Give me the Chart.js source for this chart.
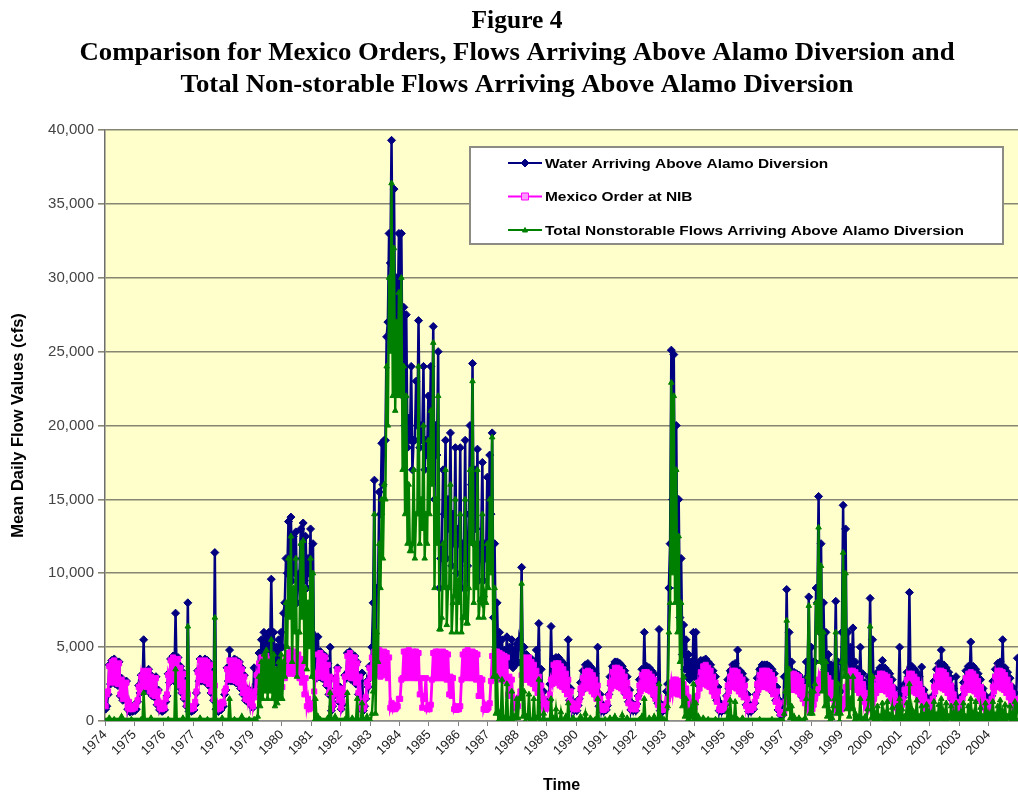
<!DOCTYPE html>
<html>
<head>
<meta charset="utf-8">
<script src="https://cdn.jsdelivr.net/npm/chart.js@4.4.1/dist/chart.umd.min.js"></script>
<style>
  html, body { margin: 0; padding: 0; background: #ffffff; overflow: hidden; }
  #wrap { position: relative; width: 1018px; height: 796px; }
</style>
</head>
<body>
<div id="wrap"><canvas id="flowChart" width="1018" height="796"></canvas></div>
<script>
// Calendar years on the time axis; every series keeps 12 monthly readings per year,
// one array for the month's upper reading and one for its lower reading.
const years = [1974, 1975, 1976, 1977, 1978, 1979, 1980, 1981, 1982, 1983, 1984, 1985, 1986, 1987, 1988, 1989,
               1990, 1991, 1992, 1993, 1994, 1995, 1996, 1997, 1998, 1999, 2000, 2001, 2002, 2003, 2004];

const yTicks = [0, 5000, 10000, 15000, 20000, 25000, 30000, 35000, 40000];

const seriesNames = [
  'Water Arriving Above Alamo Diversion',
  'Mexico Order at NIB',
  'Total Nonstorable Flows Arriving Above Alamo Diversion'
];

// Water arriving above Alamo Diversion (cfs) - monthly upper readings
const waterArriving = [
  1000, 3800, 4100, 4200, 3800, 4000, 2900, 2400, 2700, 1200, 700, 800,          // 1974
  800, 2400, 3100, 5500, 3300, 3500, 3100, 2800, 3000, 2100, 1000, 700,          // 1975
  1300, 3200, 4200, 4400, 7300, 4300, 3700, 3300, 2700, 8000, 800, 700,          // 1976
  1100, 3400, 4200, 4000, 4200, 4100, 3900, 3300, 11400, 1100, 900, 1200,        // 1977
  1800, 3600, 4800, 4000, 4200, 4100, 4000, 3600, 3100, 2200, 2100, 1700,        // 1978
  3600, 2500, 4600, 5500, 6000, 5800, 6000, 9600, 6000, 5000, 5500, 6000,        // 1979
  7300, 11000, 13500, 13800, 12500, 12800, 9500, 13000, 13400, 12500, 11000, 13000, // 1980
  12000, 5700, 5700, 4700, 4500, 4400, 3900, 5000, 1000, 2900, 3600, 2300,       // 1981
  1100, 3100, 4600, 4700, 4400, 4400, 4000, 3100, 3250, 1000, 2700, 3700,        // 1982
  5000, 16300, 9000, 15500, 18800, 19000, 26000, 33000, 39300, 36000, 30000, 33000, // 1983
  33000, 28000, 27500, 20500, 24000, 19000, 23000, 27100, 20000, 24000, 19000, 22000, // 1984
  24000, 26700, 20000, 25000, 11000, 17000, 19000, 15000, 19500, 14000, 18500, 13000, // 1985
  18500, 12000, 19000, 10500, 20000, 24200, 17000, 18400, 11000, 17500, 12000, 16500, // 1986
  18000, 19500, 12000, 8000, 6000, 5500, 4800, 5700, 5000, 5500, 4800, 5200,     // 1987
  5500, 10400, 5000, 4500, 4300, 4200, 4000, 4800, 6600, 3500, 2000, 1300,       // 1988
  1300, 6400, 4200, 4300, 4300, 4100, 3900, 3600, 5500, 2200, 1300, 1050,        // 1989
  1050, 2600, 3400, 3800, 3900, 3700, 3500, 3200, 5000, 1800, 1100, 1000,        // 1990
  1050, 3000, 3700, 4000, 4000, 3900, 3700, 3400, 3000, 2100, 1200, 1050,        // 1991
  1150, 2800, 3500, 6000, 3700, 3600, 3400, 3200, 2700, 6200, 1100, 1050,        // 1992
  2000, 9000, 25100, 24800, 20000, 15000, 11000, 6500, 5500, 4500, 4000, 6000,   // 1993
  6000, 3900, 4100, 4100, 4200, 4000, 3800, 3400, 3000, 2300, 1200, 1050,        // 1994
  1100, 2800, 3400, 3800, 3900, 4800, 3400, 3200, 2800, 1800, 1100, 1050,        // 1995
  1200, 2900, 3500, 3800, 3800, 3800, 3700, 3500, 3200, 2300, 1400, 700,         // 1996
  3000, 8900, 6000, 4000, 3300, 3200, 3100, 2800, 2400, 4000, 8400, 5000,        // 1997
  4000, 9000, 15200, 12000, 8000, 6000, 4500, 3800, 3500, 8100, 4000, 2000,      // 1998
  14600, 13000, 6000, 5000, 6300, 4000, 3500, 5000, 3200, 2600, 2000, 8300,      // 1999
  5500, 2700, 3300, 3600, 4100, 3600, 3400, 3200, 2800, 2200, 1700, 5000,        // 2000
  2000, 2500, 3300, 8700, 3700, 3500, 3300, 3000, 3650, 2100, 1600, 1400,        // 2001
  1400, 2700, 3500, 3900, 4800, 3800, 3600, 3300, 2900, 2200, 3000, 1400,        // 2002
  1400, 2600, 3400, 3700, 5350, 3700, 3500, 3200, 2800, 2200, 1700, 1400,        // 2003
  1400, 2700, 3500, 3900, 4000, 5500, 3600, 3300, 2900, 2300, 1900, 4250         // 2004
];

// Water arriving above Alamo Diversion (cfs) - monthly lower readings
const waterArrivingLow = [
  800, 1800, 2500, 2700, 2500, 2400, 1700, 1400, 1500, 800, 600, 650,            // 1974
  700, 1300, 1900, 2300, 2200, 2200, 1900, 1700, 1600, 1100, 750, 650,           // 1975
  750, 1700, 2600, 2900, 2700, 2700, 2300, 1900, 1500, 1000, 650, 650,           // 1976
  750, 1900, 2700, 2700, 2700, 2600, 2400, 1900, 1400, 800, 650, 750,            // 1977
  1000, 2100, 2700, 2700, 2700, 2600, 2500, 2200, 1800, 1400, 1300, 1100,        // 1978
  900, 1900, 2900, 3500, 4000, 4200, 4000, 4500, 4200, 3800, 3600, 4000,         // 1979
  5000, 8000, 10000, 11000, 9500, 10000, 8000, 10000, 11000, 9500, 9000, 10000,  // 1980
  6000, 3000, 2900, 3000, 2900, 2800, 2400, 1800, 700, 1700, 2200, 1300,         // 1981
  800, 1800, 2900, 3000, 2800, 2800, 2500, 1800, 800, 700, 1500, 2300,           // 1982
  3000, 8000, 5000, 9000, 14000, 16000, 19000, 27000, 31000, 28000, 26000, 27000, // 1983
  26000, 22000, 20000, 18500, 19000, 17000, 19000, 20000, 18500, 19000, 17000, 18000, // 1984
  19000, 20000, 15000, 18000, 9000, 12000, 14000, 11000, 13000, 10500, 12000, 10000, // 1985
  12000, 9000, 11000, 9000, 14000, 16000, 12000, 13000, 9500, 12000, 9500, 11000, // 1986
  12000, 14000, 7000, 5000, 4200, 4000, 3800, 4000, 3800, 3900, 3600, 3800,      // 1987
  4000, 5000, 3800, 3500, 3400, 3200, 3000, 3100, 3000, 2200, 1200, 900,         // 1988
  900, 2500, 2800, 2900, 2900, 2700, 2600, 2300, 2000, 1400, 800, 700,           // 1989
  700, 1500, 2000, 2400, 2500, 2400, 2200, 2000, 1700, 1000, 700, 650,           // 1990
  750, 1800, 2400, 2600, 2600, 2500, 2400, 2200, 1800, 1300, 750, 700,           // 1991
  700, 1700, 2100, 2400, 2400, 2300, 2200, 2000, 1600, 1200, 700, 650,           // 1992
  800, 2500, 12000, 15000, 12000, 9000, 7000, 4500, 3500, 3000, 2800, 3000,      // 1993
  3000, 2500, 2900, 2900, 2800, 2700, 2500, 2200, 1900, 1400, 700, 650,          // 1994
  750, 1700, 2200, 2500, 2500, 2400, 2200, 2000, 1700, 1100, 650, 650,           // 1995
  800, 1800, 2300, 2500, 2500, 2500, 2400, 2200, 1900, 1400, 750, 400,           // 1996
  400, 3000, 2500, 2500, 2300, 2200, 2100, 1900, 1600, 1500, 3000, 2500,         // 1997
  2000, 4000, 8000, 6000, 4000, 3500, 2800, 2300, 2000, 3000, 2000, 1000,        // 1998
  6000, 5000, 3500, 3000, 3500, 2800, 2500, 2600, 2200, 1600, 1200, 3000,        // 1999
  2500, 1800, 2200, 2400, 2500, 2400, 2300, 2100, 1800, 1400, 1100, 1500,        // 2000
  1200, 1600, 2200, 3000, 2500, 2300, 2200, 2000, 1800, 1300, 1100, 900,         // 2001
  900, 1700, 2300, 2600, 2800, 2600, 2400, 2200, 1900, 1400, 1200, 900,          // 2002
  900, 1700, 2200, 2500, 2800, 2500, 2300, 2100, 1800, 1400, 1100, 900,          // 2003
  900, 1700, 2300, 2600, 2700, 2800, 2400, 2200, 1900, 1500, 1200, 1500          // 2004
];

// Mexico order at NIB (cfs) - monthly upper readings
const mexicoOrder = [
  1800, 3700, 4000, 4100, 3700, 3900, 2800, 2300, 2600, 1300, 900, 1000,   // 1974
  1100, 2300, 3000, 3400, 3200, 3400, 3000, 2700, 2900, 2000, 1200, 900,   // 1975
  1500, 3100, 4100, 4300, 4000, 4200, 3600, 3200, 2600, 1800, 1000, 900,   // 1976
  1300, 3300, 4100, 3900, 4100, 4000, 3800, 3200, 2400, 1200, 1000, 1300,  // 1977
  2000, 3500, 4100, 3900, 4100, 4000, 3900, 3500, 3000, 2100, 2000, 1800,  // 1978
  1600, 3100, 3900, 4300, 4200, 4400, 4200, 3900, 3500, 3000, 2700, 3200,  // 1979
  3600, 4300, 4600, 4800, 4600, 4700, 4500, 4200, 3900, 2900, 1500, 950,   // 1980
  1200, 3200, 4500, 4600, 4400, 4300, 3800, 3000, 1100, 2800, 3500, 2200,  // 1981
  1300, 3000, 4400, 4600, 4300, 4300, 3900, 3000, 1200, 1000, 2600, 3600,  // 1982
  4300, 4700, 4600, 4800, 4500, 4700, 4600, 4300, 1200, 1100, 900, 1500,   // 1983
  2800, 4700, 4700, 4800, 4600, 4700, 4700, 4600, 2900, 1500, 2900, 1000,  // 1984
  1100, 4600, 4700, 4700, 4600, 4700, 4600, 4500, 3000, 2900, 1000, 800,   // 1985
  1000, 4500, 4700, 4800, 4600, 4700, 4600, 4500, 2900, 2800, 1100, 800,   // 1986
  1200, 4400, 4700, 4700, 4600, 4500, 4400, 4300, 3000, 2800, 1500, 1200,  // 1987
  1600, 3100, 4300, 4200, 4300, 4000, 3800, 3400, 3000, 2400, 1500, 1100,  // 1988
  1200, 2800, 3800, 3900, 3900, 3700, 3500, 3200, 2800, 2000, 1200, 1000,  // 1989
  1100, 2200, 2900, 3300, 3400, 3300, 3100, 2800, 2400, 1500, 1000, 950,   // 1990
  1200, 2600, 3300, 3600, 3600, 3500, 3300, 3000, 2600, 1800, 1100, 1000,  // 1991
  1100, 2400, 3100, 3300, 3300, 3200, 3000, 2800, 2300, 1600, 1000, 950,   // 1992
  1200, 2200, 2600, 2800, 2800, 2700, 2600, 2500, 2200, 1600, 1200, 1300,  // 1993
  1400, 2600, 3300, 3700, 3800, 3600, 3400, 3000, 2600, 2000, 1000, 950,   // 1994
  1200, 2400, 3000, 3400, 3400, 3300, 3000, 2800, 2400, 1500, 950, 1000,   // 1995
  1300, 2500, 3100, 3400, 3400, 3400, 3300, 3100, 2800, 2000, 1200, 600,   // 1996
  600, 2000, 2800, 3200, 3200, 3100, 3000, 2700, 2300, 1800, 1200, 900,    // 1997
  1100, 2200, 2800, 3200, 3200, 3100, 2900, 2600, 2300, 1700, 1000, 900,   // 1998
  1100, 2300, 3000, 3400, 3400, 3300, 3100, 2900, 2500, 1900, 1300, 1100,  // 1999
  1200, 2300, 2900, 3200, 3200, 3100, 3000, 2700, 2300, 1800, 1300, 1100,  // 2000
  1100, 2100, 2800, 3200, 3200, 3000, 2800, 2500, 2100, 1700, 1300, 1100,  // 2001
  1200, 2300, 3000, 3400, 3400, 3300, 3100, 2800, 2400, 1800, 1300, 1100,  // 2002
  1100, 2200, 2900, 3200, 3300, 3200, 3000, 2700, 2300, 1800, 1300, 1100,  // 2003
  1200, 2300, 3000, 3400, 3400, 3300, 3100, 2800, 2400, 1900, 1500, 1400   // 2004
];

// Mexico order at NIB (cfs) - monthly lower readings
const mexicoOrderLow = [
  1000, 2000, 2600, 2800, 2600, 2500, 1800, 1500, 1600, 900, 800, 800,     // 1974
  900, 1400, 2000, 2400, 2300, 2300, 2000, 1800, 1700, 1200, 900, 800,     // 1975
  900, 1800, 2700, 3000, 2800, 2800, 2400, 2000, 1600, 1100, 800, 800,     // 1976
  900, 2000, 2800, 2800, 2800, 2700, 2500, 2000, 1500, 900, 800, 900,      // 1977
  1200, 2200, 2800, 2800, 2800, 2700, 2600, 2300, 1900, 1500, 1400, 1200,  // 1978
  1000, 2000, 2700, 3000, 3000, 3000, 2900, 2700, 2300, 2000, 1800, 2000,  // 1979
  2300, 2900, 3200, 3300, 3200, 3200, 3100, 2900, 2600, 1800, 1000, 800,   // 1980
  900, 2000, 3000, 3100, 3000, 2900, 2500, 1900, 800, 1800, 2300, 1400,    // 1981
  900, 1900, 3000, 3100, 2900, 2900, 2600, 1900, 900, 800, 1600, 2400,     // 1982
  2900, 3200, 3100, 3300, 3000, 3200, 3100, 2900, 900, 800, 800, 1000,     // 1983
  1500, 2900, 2900, 3000, 2900, 3000, 2900, 2900, 1800, 900, 1700, 800,    // 1984
  800, 2800, 2900, 2900, 2900, 2900, 2900, 2800, 1800, 1700, 800, 750,     // 1985
  800, 2800, 2900, 3000, 2900, 2900, 2900, 2800, 1700, 1700, 800, 750,     // 1986
  900, 2700, 2900, 2900, 2900, 2800, 2800, 2700, 1800, 1700, 1000, 900,    // 1987
  1000, 2000, 2800, 2800, 2800, 2600, 2500, 2200, 1900, 1500, 1000, 850,   // 1988
  850, 1800, 2500, 2600, 2600, 2400, 2300, 2100, 1800, 1300, 900, 800,     // 1989
  800, 1400, 1900, 2200, 2300, 2200, 2000, 1800, 1500, 1000, 800, 750,     // 1990
  850, 1700, 2200, 2400, 2400, 2300, 2200, 2000, 1700, 1200, 850, 800,     // 1991
  800, 1600, 2000, 2200, 2200, 2100, 2000, 1800, 1500, 1100, 800, 750,     // 1992
  850, 1500, 1800, 1900, 1900, 1800, 1800, 1700, 1500, 1100, 850, 900,     // 1993
  950, 1700, 2200, 2500, 2500, 2400, 2300, 2000, 1700, 1300, 800, 750,     // 1994
  850, 1600, 2000, 2300, 2300, 2200, 2000, 1800, 1600, 1000, 750, 750,     // 1995
  900, 1700, 2100, 2300, 2300, 2300, 2200, 2100, 1800, 1300, 850, 500,     // 1996
  500, 1300, 1900, 2100, 2100, 2100, 2000, 1800, 1500, 1200, 850, 700,     // 1997
  800, 1500, 1900, 2100, 2100, 2100, 1900, 1700, 1500, 1100, 750, 700,     // 1998
  800, 1500, 2000, 2300, 2300, 2200, 2100, 1900, 1700, 1300, 900, 800,     // 1999
  850, 1500, 1900, 2100, 2100, 2100, 2000, 1800, 1500, 1200, 900, 800,     // 2000
  800, 1400, 1900, 2100, 2100, 2000, 1900, 1700, 1400, 1100, 900, 800,     // 2001
  850, 1500, 2000, 2300, 2300, 2200, 2100, 1900, 1600, 1200, 900, 800,     // 2002
  800, 1500, 1900, 2100, 2200, 2100, 2000, 1800, 1500, 1200, 900, 800,     // 2003
  850, 1500, 2000, 2300, 2300, 2200, 2100, 1900, 1600, 1300, 1000, 1000    // 2004
];

// Total nonstorable flows arriving above Alamo Diversion (cfs) - monthly upper readings
const nonstorableFlows = [
  0, 200, 0, 100, 0, 0, 300, 0, 0, 0, 100, 0,                              // 1974
  0, 0, 100, 1900, 0, 0, 200, 0, 0, 0, 0, 0,                               // 1975
  0, 100, 0, 0, 3500, 0, 0, 200, 0, 6400, 0, 0,                            // 1976
  0, 0, 200, 0, 0, 100, 0, 0, 7000, 0, 0, 200,                             // 1977
  0, 0, 1500, 0, 100, 0, 0, 300, 0, 0, 100, 0,                             // 1978
  100, 50, 3000, 4000, 4500, 4800, 4000, 5500, 4500, 3500, 4000, 4500,     // 1979
  4000, 8000, 11000, 12500, 9000, 11000, 6000, 12000, 12200, 9000, 8000, 11000, // 1980
  10000, 1500, 300, 100, 0, 0, 200, 1900, 0, 300, 0, 0,                    // 1981
  0, 100, 1900, 0, 200, 0, 1500, 0, 1200, 0, 300, 0,                       // 1982
  500, 14000, 6000, 12000, 15000, 16000, 24000, 30000, 36400, 32000, 27000, 29000, // 1983
  30000, 24000, 22000, 16000, 11500, 17000, 14000, 24000, 15000, 20000, 14000, 19000, // 1984
  21000, 25600, 15000, 22000, 6200, 12000, 17000, 9000, 16000, 8000, 15000, 9500, // 1985
  14000, 7000, 15000, 6600, 17000, 23000, 12000, 17000, 8200, 14000, 8500, 12000, // 1986
  15000, 19200, 9000, 3000, 500, 2800, 200, 2500, 100, 2000, 300, 1500,    // 1987
  1500, 9300, 2000, 300, 1800, 0, 1500, 200, 2800, 0, 500, 0,              // 1988
  0, 1500, 200, 800, 0, 600, 0, 300, 1200, 0, 200, 0,                      // 1989
  0, 300, 0, 500, 0, 200, 0, 100, 1500, 0, 0, 100,                         // 1990
  0, 200, 0, 300, 0, 0, 400, 0, 200, 0, 0, 0,                              // 1991
  0, 100, 300, 1500, 0, 200, 0, 300, 0, 2500, 200, 100,                    // 1992
  0, 6000, 22900, 22000, 17000, 12500, 8000, 3000, 1500, 500, 800, 2500,   // 1993
  1200, 300, 0, 200, 0, 100, 0, 0, 100, 0, 0, 0,                           // 1994
  0, 600, 1400, 200, 1300, 100, 0, 200, 0, 0, 0, 0,                        // 1995
  0, 0, 100, 0, 0, 0, 0, 100, 0, 0, 0, 0,                                  // 1996
  500, 6800, 3500, 1000, 300, 0, 200, 0, 0, 1500, 7800, 2000,              // 1997
  2000, 8000, 13100, 10500, 6000, 4000, 1500, 500, 1000, 6000, 2500, 500,  // 1998
  11400, 10000, 3000, 1500, 3000, 500, 200, 1500, 100, 300, 800, 6400,     // 1999
  3000, 500, 1000, 300, 1200, 500, 1300, 400, 900, 200, 1000, 1500,        // 2000
  800, 300, 1200, 2500, 800, 500, 1400, 300, 1000, 400, 1100, 600,         // 2001
  500, 1300, 400, 1100, 1500, 600, 1200, 300, 1000, 500, 1200, 400,        // 2002
  600, 1200, 300, 1000, 1500, 500, 1300, 400, 900, 300, 1200, 500,         // 2003
  500, 1300, 400, 1000, 1400, 600, 1100, 300, 1000, 500, 1300, 1000        // 2004
];

// Total nonstorable flows arriving above Alamo Diversion (cfs) - monthly lower readings
const nonstorableFlowsLow = [
  0, 0, 0, 0, 0, 0, 0, 0, 0, 0, 0, 0,                                      // 1974
  0, 0, 0, 0, 0, 0, 0, 0, 0, 0, 0, 0,                                      // 1975
  0, 0, 0, 0, 0, 0, 0, 0, 0, 0, 0, 0,                                      // 1976
  0, 0, 0, 0, 0, 0, 0, 0, 0, 0, 0, 0,                                      // 1977
  0, 0, 0, 0, 0, 0, 0, 0, 0, 0, 0, 0,                                      // 1978
  0, 0, 300, 1000, 1500, 2000, 1500, 2000, 1500, 1000, 1200, 1500,         // 1979
  1500, 3000, 5000, 7000, 4000, 6000, 3000, 6000, 7000, 4000, 3500, 5000,  // 1980
  3000, 0, 0, 0, 0, 0, 0, 0, 0, 0, 0, 0,                                   // 1981
  0, 0, 0, 0, 0, 0, 0, 0, 0, 0, 0, 0,                                      // 1982
  0, 2000, 500, 4000, 9000, 11000, 15000, 20000, 25000, 22000, 21000, 22000, // 1983
  22000, 17000, 14000, 12000, 11500, 12000, 11000, 14000, 12000, 13000, 11000, 12000, // 1984
  14000, 16000, 9000, 12000, 6200, 7000, 9000, 6500, 9000, 6000, 8500, 6000, // 1985
  8000, 6000, 7000, 6600, 9000, 12000, 8000, 9000, 7000, 8000, 7000, 8000, // 1986
  9000, 10000, 3000, 500, 0, 200, 0, 100, 0, 100, 0, 200,                  // 1987
  200, 1500, 300, 0, 200, 0, 100, 0, 200, 0, 0, 0,                         // 1988
  0, 0, 0, 0, 0, 0, 0, 0, 0, 0, 0, 0,                                      // 1989
  0, 0, 0, 0, 0, 0, 0, 0, 0, 0, 0, 0,                                      // 1990
  0, 0, 0, 0, 0, 0, 0, 0, 0, 0, 0, 0,                                      // 1991
  0, 0, 0, 0, 0, 0, 0, 0, 0, 0, 0, 0,                                      // 1992
  0, 1000, 8000, 10000, 8000, 6000, 4000, 1000, 300, 0, 0, 300,            // 1993
  0, 0, 0, 0, 0, 0, 0, 0, 0, 0, 0, 0,                                      // 1994
  0, 0, 0, 0, 0, 0, 0, 0, 0, 0, 0, 0,                                      // 1995
  0, 0, 0, 0, 0, 0, 0, 0, 0, 0, 0, 0,                                      // 1996
  0, 2000, 800, 200, 0, 0, 0, 0, 0, 200, 3000, 500,                        // 1997
  500, 2500, 6000, 4000, 2000, 1000, 300, 0, 200, 1500, 500, 0,            // 1998
  4000, 3000, 800, 300, 800, 0, 0, 200, 0, 0, 100, 1500,                   // 1999
  200, 0, 100, 0, 200, 0, 100, 0, 200, 0, 100, 0,                          // 2000
  0, 0, 200, 100, 0, 100, 200, 0, 100, 0, 200, 0,                          // 2001
  0, 200, 0, 100, 200, 0, 100, 0, 200, 0, 100, 0,                          // 2002
  100, 200, 0, 100, 200, 0, 100, 0, 200, 0, 100, 0,                        // 2003
  0, 200, 0, 100, 200, 0, 100, 0, 200, 0, 100, 100                         // 2004
];

const titleLines = [
  'Figure 4',
  'Comparison for Mexico Orders, Flows Arriving Above Alamo Diversion and',
  'Total Non-storable Flows Arriving Above Alamo Diversion'
];

// Each month contributes its lower reading then its upper reading along the time axis.
function toPoints(low, high) {
  const pts = [];
  high.forEach((hi, i) => {
    const t = years[0] + i / 12;
    pts.push({ x: t + 0.25 / 12, y: low[i] });
    pts.push({ x: t + 0.75 / 12, y: hi });
  });
  return pts;
}

const plotFill = {
  id: 'plotFill',
  beforeDraw(chart) {
    const { ctx, chartArea: a } = chart;
    ctx.save();
    ctx.fillStyle = '#ffffcc';
    ctx.fillRect(a.left, a.top, a.right - a.left, a.bottom - a.top);
    ctx.restore();
  }
};

const titleBlock = {
  id: 'titleBlock',
  afterDraw(chart) {
    const ctx = chart.ctx;
    const rows = [
      { base: 28, width: 91 },
      { base: 60, width: 875 },
      { base: 92, width: 673 }
    ];
    ctx.save();
    ctx.font = 'bold 26px "Liberation Serif", "Times New Roman", serif';
    ctx.fillStyle = '#000000';
    ctx.textAlign = 'center';
    ctx.textBaseline = 'alphabetic';
    titleLines.forEach((line, i) => {
      const w = ctx.measureText(line).width;
      ctx.save();
      ctx.translate(517, rows[i].base);
      ctx.scale(rows[i].width / w, 1);
      ctx.fillText(line, 0, 0);
      ctx.restore();
    });
    ctx.restore();
  }
};

function drawMarker(ctx, style, x, y, r, fill, stroke) {
  ctx.beginPath();
  if (style === 'rectRot') {
    ctx.moveTo(x, y - r); ctx.lineTo(x + r, y); ctx.lineTo(x, y + r); ctx.lineTo(x - r, y); ctx.closePath();
  } else if (style === 'rect') {
    ctx.rect(x - r, y - r, 2 * r, 2 * r);
  } else {
    ctx.moveTo(x, y - r); ctx.lineTo(x + r, y + r * 0.8); ctx.lineTo(x - r, y + r * 0.8); ctx.closePath();
  }
  ctx.fillStyle = fill; ctx.fill();
  ctx.lineWidth = 1; ctx.strokeStyle = stroke; ctx.stroke();
}

const boxLegend = {
  id: 'boxLegend',
  afterDatasetsDraw(chart) {
    const { ctx, chartArea: a } = chart;
    const bx = a.left + 365, by = a.top + 17, bw = 533, bh = 97;
    ctx.save();
    ctx.fillStyle = '#ffffff';
    ctx.fillRect(bx, by, bw, bh);
    ctx.strokeStyle = '#8c8c84';
    ctx.lineWidth = 2;
    ctx.strokeRect(bx, by, bw, bh);
    ctx.font = 'bold 13.5px "Liberation Sans", Arial, sans-serif';
    ctx.textBaseline = 'middle';
    ctx.textAlign = 'left';
    const labels = chart.data.datasets.map(ds => ds.label);
    const stretch = 419 / ctx.measureText(labels[2]).width;
    const legendMarks = [
      { style: 'rectRot', r: 4, fill: '#000080' },
      { style: 'rect', r: 3.5, fill: '#ff99ff' },
      { style: 'triangle', r: 2.5, fill: '#008000' }
    ];
    chart.data.datasets.forEach((ds, i) => {
      const cy = by + 16 + i * 33.5;
      ctx.strokeStyle = ds.borderColor;
      ctx.lineWidth = 2;
      ctx.beginPath();
      ctx.moveTo(bx + 38, cy);
      ctx.lineTo(bx + 72, cy);
      ctx.stroke();
      const m = legendMarks[i];
      drawMarker(ctx, m.style, bx + 55, cy, m.r, m.fill, ds.borderColor);
      ctx.save();
      ctx.translate(bx + 75, cy + 1);
      ctx.scale(stretch, 1);
      ctx.fillStyle = '#000000';
      ctx.fillText(ds.label, 0, 0);
      ctx.restore();
    });
    ctx.restore();
  }
};

const tickFont = { family: '"Liberation Sans", Arial, sans-serif', size: 13 };

new Chart(document.getElementById('flowChart'), {
  type: 'line',
  data: {
    datasets: [
      {
        label: seriesNames[0],
        data: toPoints(waterArrivingLow, waterArriving),
        borderColor: '#000080',
        backgroundColor: '#000080',
        borderWidth: 2.5,
        pointStyle: 'rectRot',
        pointRadius: 4,
        pointBorderWidth: 1,
        pointBackgroundColor: '#000080',
        pointBorderColor: '#000080',
        tension: 0,
        order: 3
      },
      {
        label: seriesNames[1],
        data: toPoints(mexicoOrderLow, mexicoOrder),
        borderColor: '#ff00ff',
        backgroundColor: '#ff00ff',
        borderWidth: 2.8,
        pointStyle: 'rect',
        pointRadius: 3.6,
        pointBorderWidth: 1,
        pointBackgroundColor: '#ff00ff',
        pointBorderColor: '#ff00ff',
        tension: 0,
        order: 2
      },
      {
        label: seriesNames[2],
        data: toPoints(nonstorableFlowsLow, nonstorableFlows),
        borderColor: '#008000',
        backgroundColor: '#008000',
        borderWidth: 2.4,
        pointStyle: 'triangle',
        pointRadius: 3.2,
        pointBorderWidth: 1,
        pointBackgroundColor: '#008000',
        pointBorderColor: '#008000',
        tension: 0,
        order: 1
      }
    ]
  },
  options: {
    responsive: false,
    animation: false,
    layout: { autoPadding: false, padding: { top: 130, left: 0, right: 0, bottom: 0 } },
    plugins: {
      legend: { display: false },
      title: { display: false },
      tooltip: { enabled: false }
    },
    scales: {
      x: {
        type: 'linear',
        min: years[0],
        max: years[years.length - 1] + 1,
        grid: { drawOnChartArea: false, drawTicks: true, tickLength: 5, color: '#7f7f7f', lineWidth: 1 },
        border: { display: true, color: '#8a8a8a', width: 1.5 },
        ticks: {
          stepSize: 1,
          maxTicksLimit: 40,
          autoSkip: false,
          minRotation: 45,
          maxRotation: 45,
          padding: 1,
          color: '#222222',
          font: tickFont,
          callback: v => (years.includes(v) ? String(v) : '')
        },
        title: {
          display: true,
          text: 'Time',
          color: '#000000',
          font: { family: '"Liberation Sans", Arial, sans-serif', size: 16, weight: 'bold' },
          padding: { top: 0, bottom: 1 }
        },
        afterFit: s => { s.height = 75; s.paddingRight = 0; }
      },
      y: {
        min: yTicks[0],
        max: yTicks[yTicks.length - 1],
        afterBuildTicks: s => { s.ticks = yTicks.map(v => ({ value: v })); },
        grid: { color: '#868672', lineWidth: 1.6, tickLength: 7, drawTicks: true },
        border: { display: true, color: '#6e6e6e', width: 1.5 },
        ticks: {
          padding: 4,
          color: '#444444',
          font: { family: '"Liberation Sans", Arial, sans-serif', size: 15 },
          callback: v => v.toLocaleString('en-US')
        },
        title: {
          display: true,
          text: 'Mean Daily Flow Values (cfs)',
          color: '#000000',
          font: { family: '"Liberation Sans", Arial, sans-serif', size: 16.5, weight: 'bold' },
          padding: { top: 9, bottom: 0 }
        },
        afterFit: s => { s.width = 105; }
      }
    }
  },
  plugins: [plotFill, boxLegend, titleBlock]
});
</script>
</body>
</html>
